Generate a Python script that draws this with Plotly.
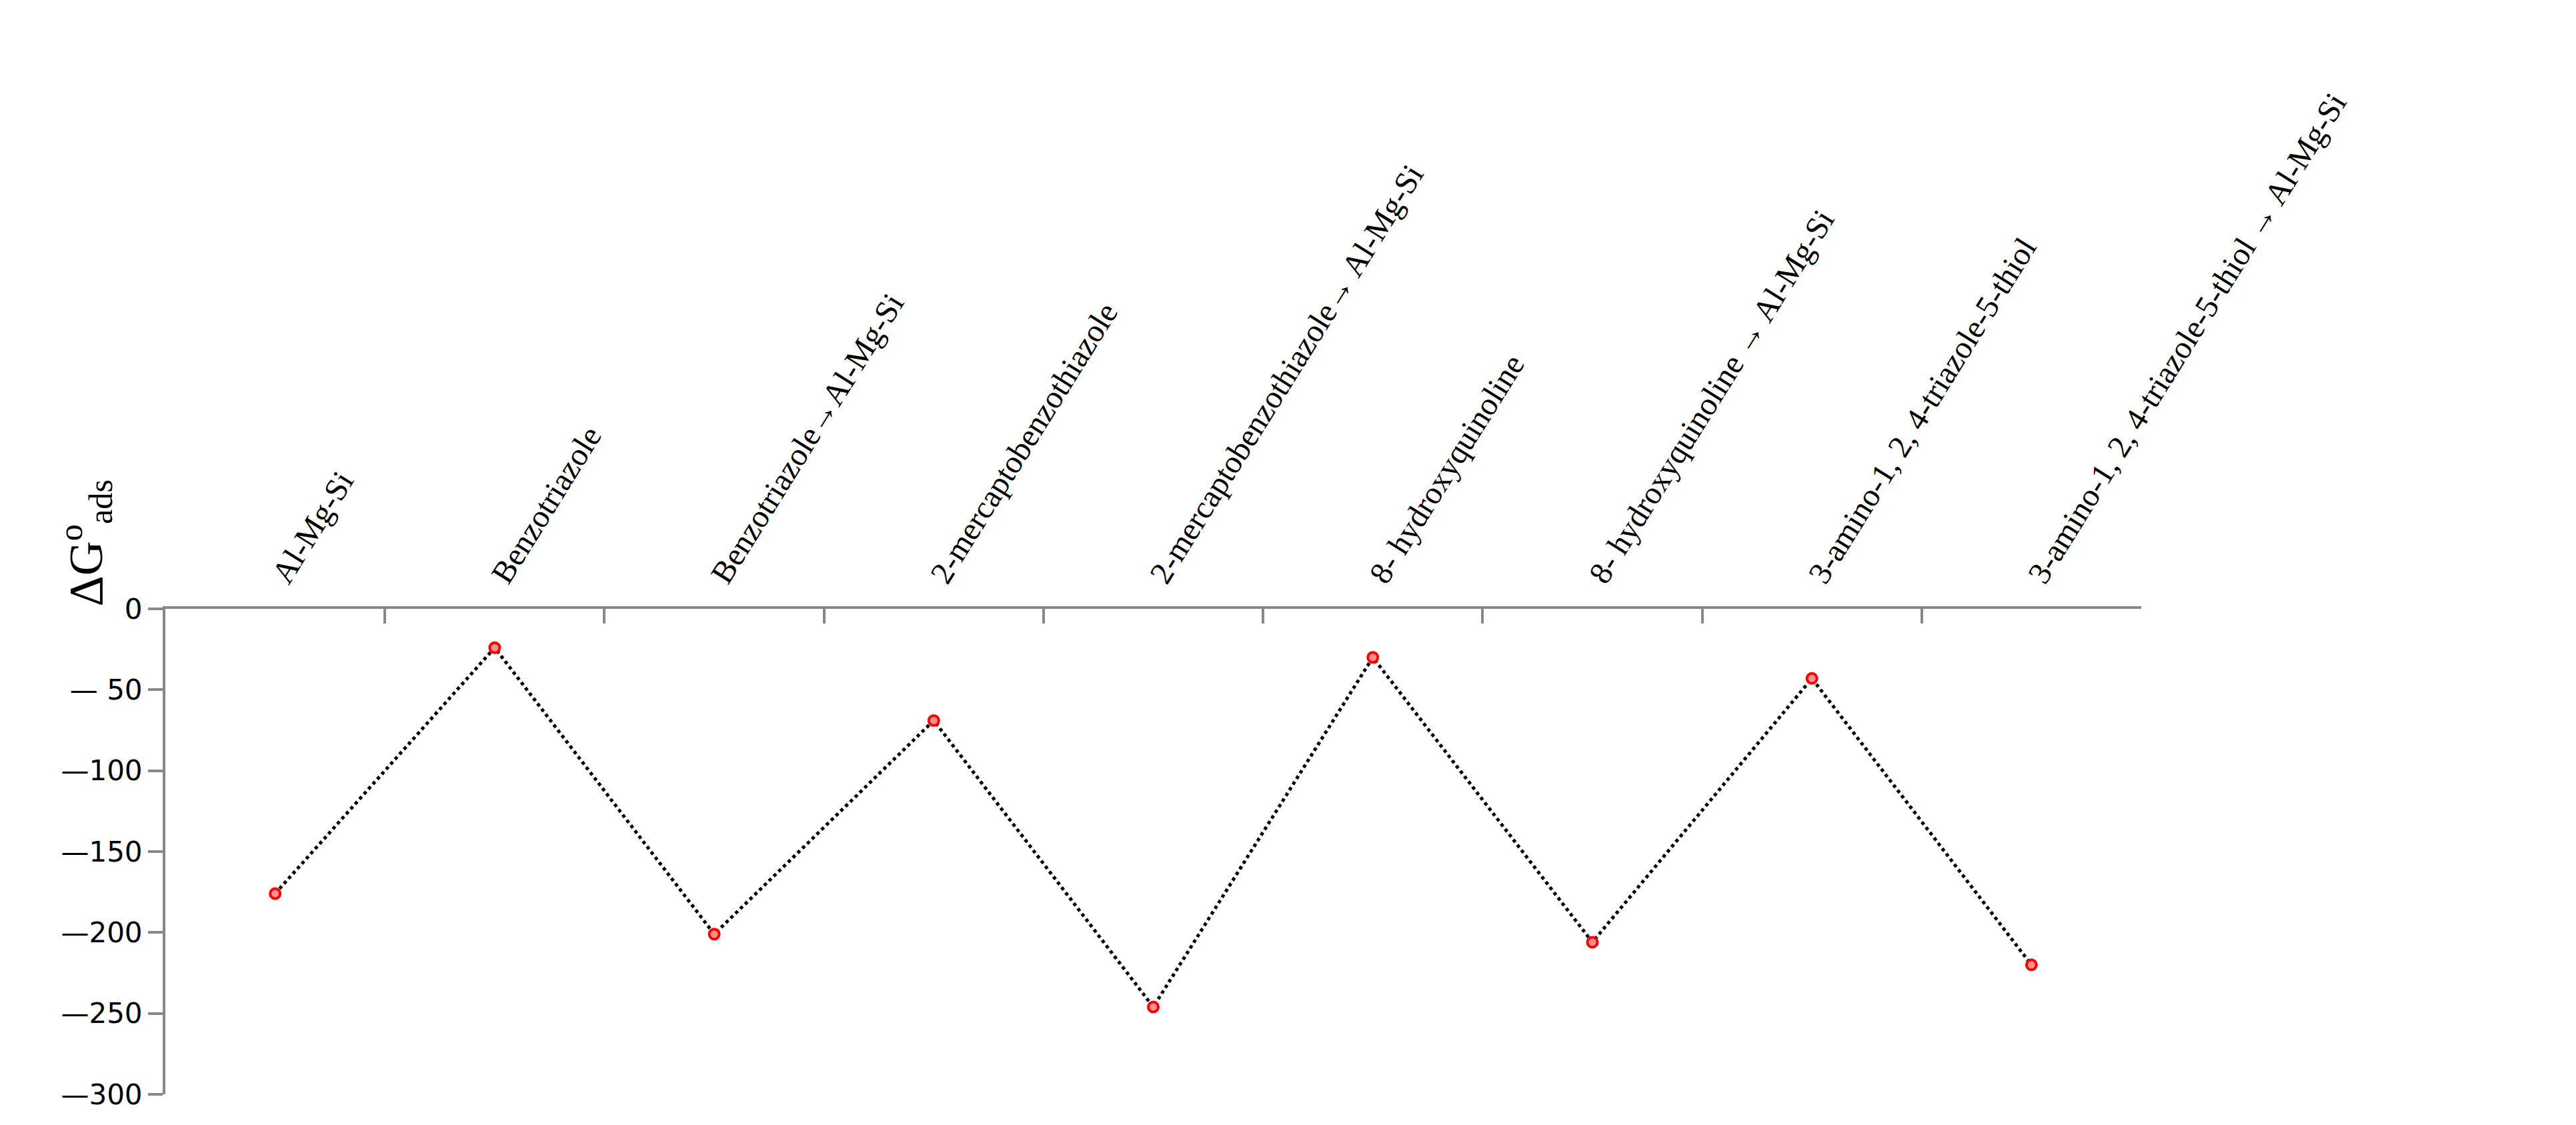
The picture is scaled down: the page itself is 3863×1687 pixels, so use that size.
import plotly.graph_objects as go

categories = ["Al-Mg-Si", "Benzotriazole", "Benzotriazole→Al-Mg-Si",
              "2-mercaptobenzothiazole", "2-mercaptobenzothiazole→ Al-Mg-Si",
              "8- hydroxyquinoline", "8- hydroxyquinoline → Al-Mg-Si",
              "3-amino-1, 2, 4-triazole-5-thiol",
              "3-amino-1, 2, 4-triazole-5-thiol → Al-Mg-Si"]
values = [-176, -24, -201, -69, -246, -30, -206, -43, -220]
ytick_vals = [0, -50, -100, -150, -200, -250, -300]
ytick_text = ["0", "— 50", "—100", "—150", "—200", "—250", "—300"]

fig = go.Figure(go.Scatter(
    x=categories, y=values, mode="lines+markers",
    line=dict(color="black", width=5, dash="dot"),
    marker=dict(size=15, color="#ff9090", line=dict(color="red", width=4)),
))
fig.update_layout(
    width=3863, height=1687, plot_bgcolor="white", paper_bgcolor="white",
    margin=dict(l=240, r=660, t=905, b=54), showlegend=False,
    xaxis=dict(side="top", type="category", tickangle=-58, showline=True,
               linecolor="#888", linewidth=4, ticks="inside", tickson="boundaries",
               ticklen=22, tickwidth=4, tickcolor="#888", showgrid=False,
               tickfont=dict(family="Liberation Serif", size=48, color="black"),
               range=[-0.5, 8.5]),
    yaxis=dict(range=[-300, 0], tickvals=ytick_vals, ticktext=ytick_text,
               showline=True, linecolor="#888", linewidth=4, ticks="outside",
               ticklen=22, tickwidth=4, tickcolor="#888", showgrid=False, zeroline=False,
               tickfont=dict(family="DejaVu Sans", size=42, color="black")),
    annotations=[dict(text="ΔG<sup>o</sup><sub>ads</sub>", textangle=-90,
                      xref="paper", yref="paper", x=-0.058, y=1.27, showarrow=False,
                      font=dict(family="Liberation Serif", size=72, color="black"))],
)
fig.write_html("out.html")
